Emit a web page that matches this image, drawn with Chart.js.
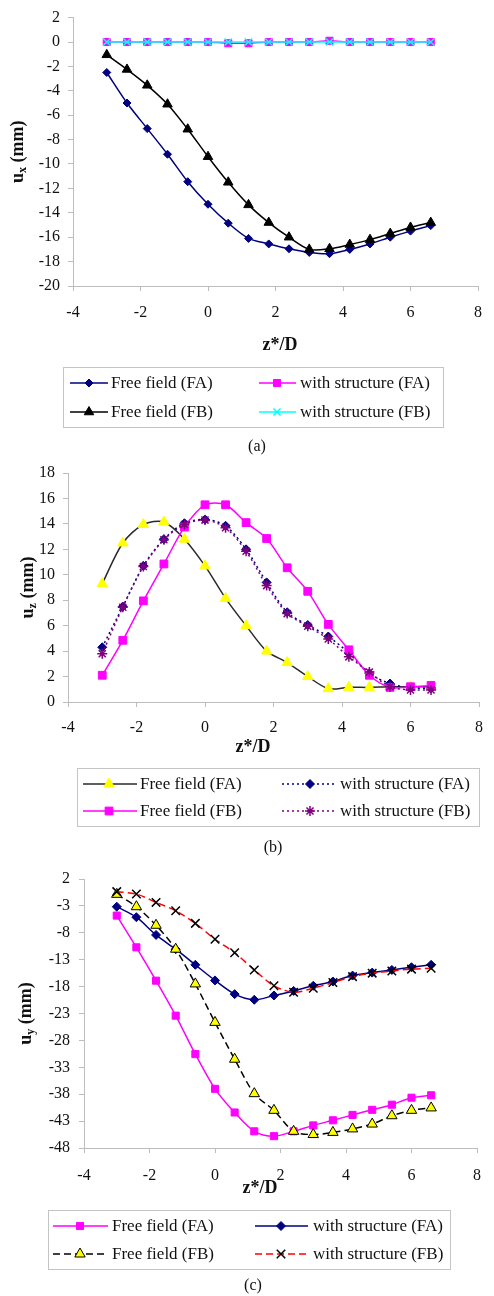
<!DOCTYPE html>
<html lang="en">
<head>
<meta charset="UTF-8">
<title>Displacement profiles along z*/D</title>
<script src="https://cdn.jsdelivr.net/npm/chart.js"></script>
<style>
  body { margin: 0; padding: 0; background: #fff; }
  canvas { position: absolute; left: 0; display: block; }
</style>
</head>
<body>
<canvas id="chartA" width="494" height="455" style="top:0px"></canvas>
<canvas id="chartB" width="494" height="405" style="top:455px"></canvas>
<canvas id="chartC" width="494" height="436" style="top:860px"></canvas>
<script>
// positions along the tunnel axis (z*/D)
const zD = [-3, -2.4, -1.8, -1.2, -0.6, 0, 0.6, 1.2, 1.8, 2.4, 3, 3.6, 4.2, 4.8, 5.4, 6, 6.6];
const xTicks = [-4, -2, 0, 2, 4, 6, 8];

// (a) ux (mm)
const uxTicks = [2, 0, -2, -4, -6, -8, -10, -12, -14, -16, -18, -20];
const uxFreeFA = [-2.5, -5.0, -7.1, -9.2, -11.45, -13.3, -14.85, -16.1, -16.55, -16.95, -17.25, -17.35, -17.0, -16.55, -16.0, -15.5, -15.05];
const uxStructFA = [0, 0, 0, 0, 0, 0, -0.1, -0.1, 0, 0, 0, 0.1, 0, 0, 0, 0, 0];
const uxFreeFB = [-1.05, -2.25, -3.55, -5.1, -7.15, -9.4, -11.5, -13.35, -14.8, -16.0, -17.0, -16.95, -16.6, -16.2, -15.7, -15.2, -14.8];
const uxStructFB = [0, 0, 0, 0, 0, 0, 0, 0, 0, 0, 0, 0, 0, 0, 0, 0, 0];

// (b) uz (mm)
const uzTicks = [0, 2, 4, 6, 8, 10, 12, 14, 16, 18];
const uzFreeFA = [9.3, 12.5, 13.95, 14.15, 12.8, 10.7, 8.15, 6.0, 4.0, 3.1, 2.0, 1.05, 1.15, 1.15, 1.2, 1.2, 1.2];
const uzStructFA = [4.3, 7.5, 10.7, 12.8, 14.05, 14.35, 13.85, 12.0, 9.4, 7.05, 6.05, 5.15, 3.85, 2.25, 1.45, 1.1, 1.1];
const uzFreeFB = [2.1, 4.85, 7.95, 10.85, 13.75, 15.5, 15.5, 14.1, 12.85, 10.55, 8.7, 6.1, 4.1, 2.1, 1.15, 1.2, 1.3];
const uzStructFB = [3.8, 7.45, 10.65, 12.75, 13.95, 14.3, 13.7, 11.85, 9.15, 6.95, 5.95, 4.95, 3.55, 2.35, 1.2, 0.95, 0.95];

// (c) uy (mm)
const uyTicks = [2, -3, -8, -13, -18, -23, -28, -33, -38, -43, -48];
const uyFreeFA = [-4.8, -10.7, -16.9, -23.4, -30.55, -37.0, -41.4, -44.9, -45.8, -44.9, -43.8, -42.85, -41.85, -40.9, -39.95, -38.65, -38.2];
const uyStructFA = [-3.15, -5.1, -8.4, -11.05, -13.95, -16.85, -19.4, -20.45, -19.65, -18.8, -17.85, -17.05, -15.95, -15.4, -14.9, -14.4, -13.95];
const uyFreeFB = [-0.85, -3.15, -6.6, -11.05, -17.5, -24.65, -31.5, -37.9, -41.0, -44.9, -45.5, -45.1, -44.45, -43.55, -42.0, -41.0, -40.55];
const uyStructFB = [-0.35, -0.8, -2.35, -3.9, -6.25, -9.2, -11.7, -14.9, -17.85, -19.05, -18.3, -17.25, -16.15, -15.5, -15.1, -14.75, -14.6];

const SERIF = "'Liberation Serif', 'Times New Roman', serif";
Chart.defaults.color = '#111';
Chart.defaults.font.family = SERIF;

function points(values) {
  return zD.map((z, i) => ({ x: z, y: values[i] }));
}

// axis titles, legend box and panel caption, drawn straight on the canvas
const paperDecor = {
  id: 'paperDecor',
  afterDraw(chart, args, o) {
    const ctx = chart.ctx;
    const area = chart.chartArea;
    ctx.save();
    ctx.fillStyle = '#111';

    // rotated y title with subscript
    const main = 'bold 18px ' + SERIF;
    const small = 'bold 12px ' + SERIF;
    ctx.font = main;
    const wU = ctx.measureText('u').width;
    const wRest = ctx.measureText(' (mm)').width;
    ctx.font = small;
    const wSub = ctx.measureText(o.sub).width;
    const total = wU + wSub + wRest;
    ctx.save();
    ctx.translate(o.yTitleX, (area.top + area.bottom) / 2);
    ctx.rotate(-Math.PI / 2);
    ctx.textBaseline = 'alphabetic';
    ctx.textAlign = 'left';
    let px = -total / 2;
    ctx.font = main;
    ctx.fillText('u', px, 6);
    px += wU;
    ctx.font = small;
    ctx.fillText(o.sub, px, 9);
    px += wSub;
    ctx.font = main;
    ctx.fillText(' (mm)', px, 6);
    ctx.restore();

    // x title
    ctx.font = 'bold 18px ' + SERIF;
    ctx.textAlign = 'center';
    ctx.textBaseline = 'middle';
    ctx.fillText('z*/D', o.xTitle[0], o.xTitle[1]);

    // legend
    const lg = o.legend;
    ctx.strokeStyle = '#c4c4c4';
    ctx.lineWidth = 1;
    ctx.strokeRect(lg.box[0] + 0.5, lg.box[1] + 0.5, lg.box[2], lg.box[3]);
    chart.data.datasets.forEach((ds, i) => {
      const row = lg.rows[Math.floor(i / 2)];
      const col = lg.cols[i % 2];
      ctx.save();
      ctx.strokeStyle = ds.borderColor;
      ctx.lineWidth = ds.borderWidth;
      ctx.setLineDash(ds.borderDash || []);
      ctx.beginPath();
      ctx.moveTo(col.x1, row);
      ctx.lineTo(col.x2, row);
      ctx.stroke();
      ctx.setLineDash([]);
      ctx.fillStyle = ds.pointBackgroundColor;
      ctx.strokeStyle = ds.pointBorderColor;
      ctx.lineWidth = ds.pointBorderWidth;
      Chart.helpers.drawPoint(ctx, {
        pointStyle: ds.pointStyle,
        radius: ds.pointRadius,
        rotation: 0,
        borderWidth: ds.pointBorderWidth
      }, col.mx, row);
      ctx.restore();
      ctx.fillStyle = '#111';
      ctx.font = '17px ' + SERIF;
      ctx.textAlign = 'left';
      ctx.textBaseline = 'middle';
      ctx.fillText(ds.label, col.tx, row + 1);
    });

    // caption
    ctx.font = '16px ' + SERIF;
    ctx.textAlign = 'center';
    ctx.fillText(o.caption, o.captionAt[0], o.captionAt[1]);
    ctx.restore();
  }
};

function series(label, values, style) {
  return Object.assign({
    label: label,
    data: points(values),
    borderWidth: 1.5,
    tension: 0.3,
    pointBorderWidth: 1,
    pointHoverRadius: 0,
    fill: false
  }, style);
}

function makeChart(id, datasets, yTicks, yMin, yMax, lay) {
  datasets.forEach((ds, i) => { ds.order = datasets.length - i; });
  const axisColor = '#bdbdbd';
  return new Chart(document.getElementById(id), {
    type: 'line',
    data: { datasets: datasets },
    options: {
      responsive: false,
      animation: false,
      events: [],
      layout: { padding: { top: lay.top, right: lay.right, left: 0, bottom: lay.bottom } },
      scales: {
        x: {
          type: 'linear',
          min: -4,
          max: 8,
          afterBuildTicks: s => { s.ticks = xTicks.map(v => ({ value: v })); },
          afterFit: s => { s.height = 40; },
          border: { display: true, color: axisColor, width: 1 },
          grid: { drawOnChartArea: false, drawTicks: true, tickLength: 5, color: axisColor },
          ticks: { padding: lay.xPad, font: { size: 16, family: SERIF }, color: '#111', maxRotation: 0 }
        },
        y: {
          type: 'linear',
          min: yMin,
          max: yMax,
          afterBuildTicks: s => { s.ticks = yTicks.map(v => ({ value: v })); },
          afterFit: s => { s.width = lay.yWidth; },
          border: { display: true, color: axisColor, width: 1 },
          grid: { drawOnChartArea: false, drawTicks: true, tickLength: 5, color: axisColor },
          ticks: { padding: lay.yPad, font: { size: 16, family: SERIF }, color: '#111' }
        }
      },
      plugins: {
        legend: { display: false },
        tooltip: { enabled: false },
        paperDecor: lay.decor
      }
    },
    plugins: [paperDecor]
  });
}

// (a) horizontal displacement ux
makeChart('chartA', [
  series('Free field (FA)', uxFreeFA, {
    borderColor: '#000080', pointBackgroundColor: '#000080', pointBorderColor: '#000080',
    pointStyle: 'rectRot', pointRadius: 4
  }),
  series('with structure (FA)', uxStructFA, {
    borderColor: '#ff00ff', pointBackgroundColor: '#ff00ff', pointBorderColor: '#ff00ff',
    pointStyle: 'rect', pointRadius: 5
  }),
  series('Free field (FB)', uxFreeFB, {
    borderColor: '#000000', pointBackgroundColor: '#000000', pointBorderColor: '#000000',
    pointStyle: 'triangle', pointRadius: 5.5
  }),
  series('with structure (FB)', uxStructFB, {
    borderColor: '#00ffff', pointBackgroundColor: '#00ffff', pointBorderColor: '#00ffff',
    pointStyle: 'crossRot', pointRadius: 5, pointBorderWidth: 1.5
  })
], uxTicks, -20, 2, {
  top: 16, right: 7, bottom: 129, yWidth: 73, yPad: 8, xPad: 12,
  decor: {
    sub: 'x', yTitleX: 17, xTitle: [280, 345], caption: '(a)', captionAt: [257, 447],
    legend: {
      box: [63, 367, 380, 60], rows: [383, 412],
      cols: [{ x1: 70, x2: 108, mx: 89, tx: 111 }, { x1: 259, x2: 296, mx: 277, tx: 300 }]
    }
  }
});

// (b) vertical displacement uz
makeChart('chartB', [
  series('Free field (FA)', uzFreeFA, {
    borderColor: '#2a2a2a', pointBackgroundColor: '#ffff00', pointBorderColor: '#ffff00',
    pointStyle: 'triangle', pointRadius: 6
  }),
  series('with structure (FA)', uzStructFA, {
    borderColor: '#000080', borderDash: [2, 3], pointBackgroundColor: '#000080', pointBorderColor: '#000080',
    pointStyle: 'rectRot', pointRadius: 4.5
  }),
  series('Free field (FB)', uzFreeFB, {
    borderColor: '#ff00ff', pointBackgroundColor: '#ff00ff', pointBorderColor: '#ff00ff',
    pointStyle: 'rect', pointRadius: 5.5
  }),
  series('with structure (FB)', uzStructFB, {
    borderColor: '#800080', borderDash: [2, 3], pointBackgroundColor: '#800080', pointBorderColor: '#800080',
    pointStyle: 'star', pointRadius: 5, pointBorderWidth: 1.5
  })
], uzTicks, 0, 18, {
  top: 18, right: 2, bottom: 118, yWidth: 68, yPad: 8, xPad: 11,
  decor: {
    sub: 'z', yTitleX: 27, xTitle: [253, 292], caption: '(b)', captionAt: [273, 393],
    legend: {
      box: [77, 313, 402, 58], rows: [329, 356],
      cols: [{ x1: 83, x2: 137, mx: 109, tx: 140 }, { x1: 282, x2: 336, mx: 310, tx: 340 }]
    }
  }
});

// (c) transverse displacement uy
makeChart('chartC', [
  series('Free field (FA)', uyFreeFA, {
    borderColor: '#ff00ff', pointBackgroundColor: '#ff00ff', pointBorderColor: '#ff00ff',
    pointStyle: 'rect', pointRadius: 5
  }),
  series('with structure (FA)', uyStructFA, {
    borderColor: '#000080', pointBackgroundColor: '#000080', pointBorderColor: '#000080',
    pointStyle: 'rectRot', pointRadius: 4.5
  }),
  series('Free field (FB)', uyFreeFB, {
    borderColor: '#000000', borderDash: [7, 4], pointBackgroundColor: '#ffff00', pointBorderColor: '#000000',
    pointStyle: 'triangle', pointRadius: 6
  }),
  series('with structure (FB)', uyStructFB, {
    borderColor: '#ff0000', borderDash: [7, 4], pointBackgroundColor: '#000000', pointBorderColor: '#000000',
    pointStyle: 'crossRot', pointRadius: 6, pointBorderWidth: 1.5
  })
], uyTicks, -48, 2, {
  top: 19, right: 1, bottom: 108, yWidth: 84, yPad: 9, xPad: 13,
  decor: {
    sub: 'y', yTitleX: 25, xTitle: [260, 328], caption: '(c)', captionAt: [253, 426],
    legend: {
      box: [48, 350, 402, 59], rows: [366, 394],
      cols: [{ x1: 53, x2: 108, mx: 80, tx: 112 }, { x1: 255, x2: 308, mx: 281, tx: 313 }]
    }
  }
});
</script>
</body>
</html>
